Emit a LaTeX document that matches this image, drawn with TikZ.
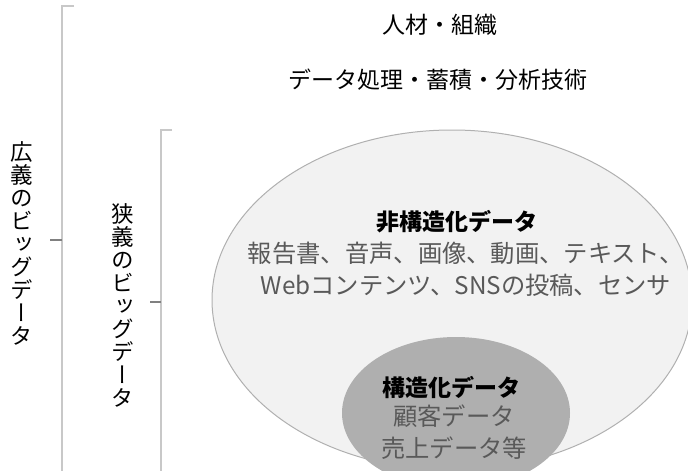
\documentclass[tikz,border=0pt]{standalone}
\usepackage{fontspec}
\setmainfont{Noto Sans CJK JP}
\newfontfamily\vjp[RawFeature={+vert}]{Noto Sans CJK JP}
\definecolor{bigfill}{HTML}{F2F2F2}
\definecolor{bigdraw}{HTML}{B0B0B0}
\definecolor{smallfill}{HTML}{AFAFAF}
\definecolor{bodytxt}{HTML}{595959}
\definecolor{brk}{HTML}{C8C8C8}
\tikzset{
  toptext/.style={font=\fontsize{23}{26}\selectfont, text=black, inner sep=0pt},
  headtext/.style={font=\fontsize{23}{26}\selectfont\bfseries, text=black, inner sep=0pt},
  listtext/.style={font=\fontsize{24.3}{32}\selectfont, text=bodytxt, inner sep=0pt, align=center},
  vtext/.style={font=\fontsize{22.5}{23}\selectfont\vjp, text=black, inner sep=0pt, align=center},
  bracket/.style={draw=brk, line width=1.1pt},
  tick/.style={draw=gray, line width=1.1pt}
}
\begin{document}
\begin{tikzpicture}[x=1pt,y=-1pt]
\useasboundingbox (0,0) rectangle (688,471);
\begin{scope}
\clip (0,0) rectangle (688,471);
\fill[bigfill, draw=bigdraw, line width=1pt] (452,300) ellipse [x radius=240, y radius=170];
\fill[smallfill] (456,413) ellipse [x radius=114, y radius=76];
\end{scope}
% brackets
\coordinate (b1top) at (62,6);
\coordinate (b1hook) at (74,6);
\coordinate (b1bot) at (62,471);
\coordinate (b1mid) at (62,240);
\coordinate (b1tick) at (50,240);
\draw[bracket] (b1hook) -- (b1top) -- (b1bot);
\draw[tick] (b1mid) -- (b1tick);
\coordinate (b2top) at (161,130);
\coordinate (b2hook) at (172,130);
\coordinate (b2bot) at (161,471);
\coordinate (b2mid) at (161,302);
\coordinate (b2tick) at (150,302);
\draw[bracket] (b2hook) -- (b2top) -- (b2bot);
\draw[tick] (b2mid) -- (b2tick);
% texts
\node[toptext] (jinzai) at (440,25) {人材・組織};
\node[toptext] (gijutsu) at (438,80) {データ処理・蓄積・分析技術};
\node[headtext] (hikouzou) at (457,222) {非構造化データ};
\node[listtext] (hlist) at (466,269) {報告書、音声、画像、動画、テキスト、\\Webコンテンツ、SNSの投稿、センサ};
\node[headtext] (kouzou) at (451,387) {構造化データ};
\node[listtext] (klist) at (454,432) {顧客データ\\売上データ等};
\node[vtext] (kougi) at (22,243) {広\\義\\の\\ビ\\ッ\\グ\\デ\\ー\\タ};
\node[vtext] (kyougi) at (123,305) {狭\\義\\の\\ビ\\ッ\\グ\\デ\\ー\\タ};
\end{tikzpicture}
\end{document}
